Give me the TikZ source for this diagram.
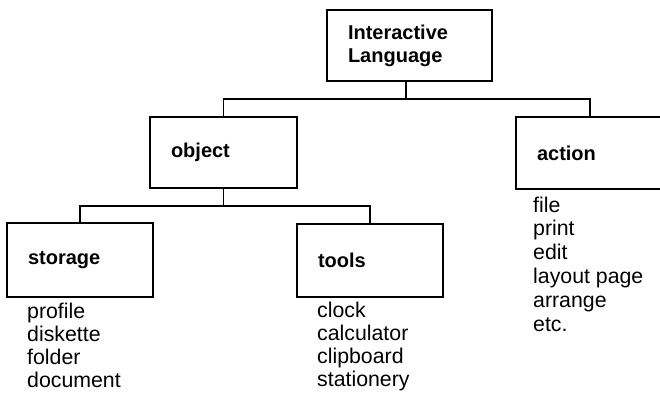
\documentclass[tikz,border=0pt]{standalone}
\usepackage{fontspec}
\setmainfont{Liberation Sans}
\begin{document}
\begin{tikzpicture}[x=1pt,y=-1pt,
  box/.style={draw, line width=1.6pt, align=left, inner xsep=21pt, inner ysep=0pt,
    font=\bfseries\fontsize{20}{23}\selectfont},
  item/.style={anchor=base west, inner sep=0pt, font=\fontsize{21.3}{23.5}\selectfont},
  conn/.style={line width=1.6pt}]
\clip (0,0) rectangle (660,393);
\fill[white] (0,0) rectangle (660,393);
% boxes
\node[box, text width=123pt, minimum height=71pt] (top) at (409.5,45.5) {Interactive\\Language};
\node[box, text width=105pt, minimum height=71pt] (object) at (223.5,152.5) {object};
\node[box, text width=106pt, minimum height=72pt] (action) at (590,153) {action};
\node[box, text width=104pt, minimum height=74pt] (storage) at (80,260) {storage};
\node[box, text width=104pt, minimum height=73pt] (tools) at (370,260.5) {tools};
% junctions
\coordinate (j1) at (406,99);
\coordinate (j2) at (223.5,206);
% connectors
\draw[conn] (j1 |- top.south) -- (j1);
\draw[conn] (object.north) |- (j1) -| (action.north);
\draw[conn] (object.south) -- (j2);
\draw[conn] (storage.north) |- (j2) -| (tools.north);
% item lists
\foreach \t [count=\i] in {profile,diskette,folder,document}
  \node[item] (s\i) at (27,{318+23*(\i-1)}) {\t};
\foreach \t [count=\i] in {clock,calculator,clipboard,stationery}
  \node[item] (t\i) at (317,{317+23*(\i-1)}) {\t};
\foreach \t [count=\i] in {file,print,edit,layout page,arrange,etc.}
  \node[item] (a\i) at (533,{212+23.8*(\i-1)}) {\t};
\end{tikzpicture}
\end{document}
